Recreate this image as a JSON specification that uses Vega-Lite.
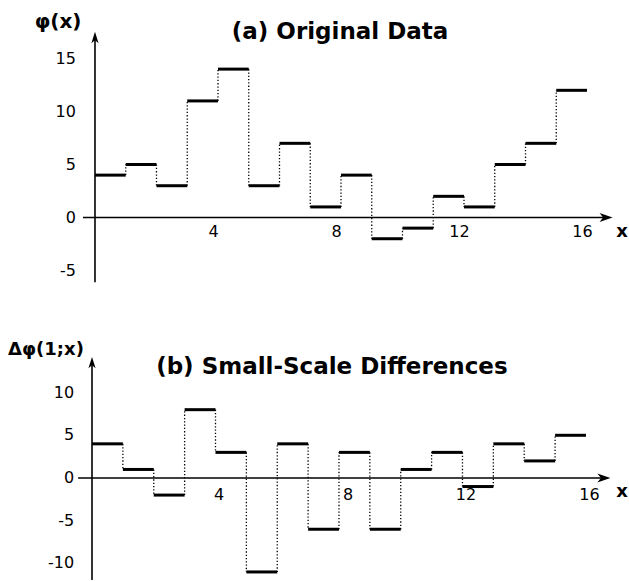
{
  "$schema": "https://vega.github.io/schema/vega-lite/v6.json",
  "padding": 0,
  "spacing": 0,
  "bounds": "flush",
  "background": "white",
  "config": {"view": {"stroke": null}, "font": "DejaVu Sans", "axis": {"domain": false, "ticks": false, "labels": false, "grid": false, "title": null}},
  "datasets": {
    "a": [
      {"start": 0, "end": 1, "v": 4, "prev": null},
      {"start": 1, "end": 2, "v": 5, "prev": 4},
      {"start": 2, "end": 3, "v": 3, "prev": 5},
      {"start": 3, "end": 4, "v": 11, "prev": 3},
      {"start": 4, "end": 5, "v": 14, "prev": 11},
      {"start": 5, "end": 6, "v": 3, "prev": 14},
      {"start": 6, "end": 7, "v": 7, "prev": 3},
      {"start": 7, "end": 8, "v": 1, "prev": 7},
      {"start": 8, "end": 9, "v": 4, "prev": 1},
      {"start": 9, "end": 10, "v": -2, "prev": 4},
      {"start": 10, "end": 11, "v": -1, "prev": -2},
      {"start": 11, "end": 12, "v": 2, "prev": -1},
      {"start": 12, "end": 13, "v": 1, "prev": 2},
      {"start": 13, "end": 14, "v": 5, "prev": 1},
      {"start": 14, "end": 15, "v": 7, "prev": 5},
      {"start": 15, "end": 16, "v": 12, "prev": 7}
    ],
    "b": [
      {"start": 0, "end": 1, "v": 4, "prev": null},
      {"start": 1, "end": 2, "v": 1, "prev": 4},
      {"start": 2, "end": 3, "v": -2, "prev": 1},
      {"start": 3, "end": 4, "v": 8, "prev": -2},
      {"start": 4, "end": 5, "v": 3, "prev": 8},
      {"start": 5, "end": 6, "v": -11, "prev": 3},
      {"start": 6, "end": 7, "v": 4, "prev": -11},
      {"start": 7, "end": 8, "v": -6, "prev": 4},
      {"start": 8, "end": 9, "v": 3, "prev": -6},
      {"start": 9, "end": 10, "v": -6, "prev": 3},
      {"start": 10, "end": 11, "v": 1, "prev": -6},
      {"start": 11, "end": 12, "v": 3, "prev": 1},
      {"start": 12, "end": 13, "v": -1, "prev": 3},
      {"start": 13, "end": 14, "v": 4, "prev": -1},
      {"start": 14, "end": 15, "v": 2, "prev": 4},
      {"start": 15, "end": 16, "v": 5, "prev": 2}
    ],
    "yticksA": [{"t": -5}, {"t": 0}, {"t": 5}, {"t": 10}, {"t": 15}],
    "yticksB": [{"t": -10}, {"t": -5}, {"t": 0}, {"t": 5}, {"t": 10}],
    "xticks": [{"t": 4}, {"t": 8}, {"t": 12}, {"t": 16}],
    "one": [{}]
  },
  "vconcat": [
    {
      "width": 629,
      "height": 300,
      "layer": [
        {
          "data": {"name": "a"},
          "transform": [{"filter": "isValid(datum.prev)"}],
          "mark": {"type": "rule", "strokeDash": [1.3, 2], "strokeWidth": 1.3, "color": "black"},
          "encoding": {
            "x": {"field": "start", "type": "quantitative", "scale": {"domain": [-3.089, 17.366], "nice": false, "zero": false}},
            "y": {"field": "prev", "type": "quantitative", "scale": {"domain": [-7.78, 20.52], "nice": false, "zero": false}},
            "y2": {"field": "v"}
          }
        },
        {
          "data": {"name": "a"},
          "mark": {"type": "rule", "strokeWidth": 3, "color": "black", "strokeCap": "butt"},
          "encoding": {
            "x": {"field": "start", "type": "quantitative"},
            "x2": {"field": "end"},
            "y": {"field": "v", "type": "quantitative"}
          }
        },
        {
          "data": {"name": "one"},
          "mark": {"type": "rule", "strokeWidth": 1.6, "color": "black"},
          "encoding": {
            "x": {"datum": -0.39, "type": "quantitative"},
            "x2": {"datum": 16.6},
            "y": {"datum": 0, "type": "quantitative"}
          }
        },
        {
          "data": {"name": "one"},
          "mark": {"type": "rule", "strokeWidth": 1.6, "color": "black"},
          "encoding": {
            "x": {"datum": 0, "type": "quantitative"},
            "y": {"datum": -6.1, "type": "quantitative"},
            "y2": {"datum": 16.9}
          }
        },
        {
          "data": {"name": "one"},
          "mark": {"type": "point", "filled": true, "color": "black", "opacity": 1, "size": 169, "shape": "M 1 0 L -1 -0.7 L -0.45 0 L -1 0.7 Z"},
          "encoding": {
            "x": {"datum": 16.62, "type": "quantitative"},
            "y": {"datum": 0, "type": "quantitative"}
          }
        },
        {
          "data": {"name": "one"},
          "mark": {"type": "point", "filled": true, "color": "black", "opacity": 1, "size": 144, "shape": "M 0 -1 L 0.6 0.9 L 0 0.4 L -0.6 0.9 Z"},
          "encoding": {
            "x": {"datum": 0, "type": "quantitative"},
            "y": {"datum": 16.96, "type": "quantitative"}
          }
        },
        {
          "data": {"name": "yticksA"},
          "mark": {"type": "text", "font": "DejaVu Sans", "fontSize": 16, "align": "right", "baseline": "middle", "color": "black"},
          "encoding": {
            "x": {"datum": -0.62, "type": "quantitative"},
            "y": {"field": "t", "type": "quantitative"},
            "text": {"field": "t", "type": "nominal"}
          }
        },
        {
          "data": {"name": "xticks"},
          "mark": {"type": "text", "font": "DejaVu Sans", "fontSize": 16, "align": "center", "baseline": "middle", "color": "black", "dx": -4.5},
          "encoding": {
            "x": {"field": "t", "type": "quantitative"},
            "y": {"datum": -1.37, "type": "quantitative"},
            "text": {"field": "t", "type": "nominal"}
          }
        },
        {
          "data": {"name": "one"},
          "mark": {"type": "text", "font": "DejaVu Sans", "fontWeight": "bold", "fontSize": 23, "align": "center", "baseline": "alphabetic", "color": "black"},
          "encoding": {
            "x": {"datum": 7.97, "type": "quantitative"},
            "y": {"datum": 16.84, "type": "quantitative"},
            "text": {"value": "(a)  Original Data"}
          }
        },
        {
          "data": {"name": "one"},
          "mark": {"type": "text", "font": "DejaVu Sans", "fontWeight": "bold", "fontSize": 20, "align": "center", "baseline": "alphabetic", "color": "black"},
          "encoding": {
            "x": {"datum": -1.2, "type": "quantitative"},
            "y": {"datum": 17.88, "type": "quantitative"},
            "text": {"value": "φ(x)"}
          }
        },
        {
          "data": {"name": "one"},
          "mark": {"type": "text", "font": "DejaVu Sans", "fontWeight": "bold", "fontSize": 18, "align": "center", "baseline": "alphabetic", "color": "black"},
          "encoding": {
            "x": {"datum": 17.14, "type": "quantitative"},
            "y": {"datum": -1.84, "type": "quantitative"},
            "text": {"value": "x"}
          }
        }
      ]
    },
    {
      "width": 629,
      "height": 281,
      "layer": [
        {
          "data": {"name": "b"},
          "transform": [{"filter": "isValid(datum.prev)"}],
          "mark": {"type": "rule", "strokeDash": [1.3, 2], "strokeWidth": 1.3, "color": "black"},
          "encoding": {
            "x": {"field": "start", "type": "quantitative", "scale": {"domain": [-2.98, 17.394], "nice": false, "zero": false}},
            "y": {"field": "prev", "type": "quantitative", "scale": {"domain": [-12.06, 20.84], "nice": false, "zero": false}},
            "y2": {"field": "v"}
          }
        },
        {
          "data": {"name": "b"},
          "mark": {"type": "rule", "strokeWidth": 3, "color": "black", "strokeCap": "butt"},
          "encoding": {
            "x": {"field": "start", "type": "quantitative"},
            "x2": {"field": "end"},
            "y": {"field": "v", "type": "quantitative"}
          }
        },
        {
          "data": {"name": "one"},
          "mark": {"type": "rule", "strokeWidth": 1.6, "color": "black"},
          "encoding": {
            "x": {"datum": -0.45, "type": "quantitative"},
            "x2": {"datum": 16.6},
            "y": {"datum": 0, "type": "quantitative"}
          }
        },
        {
          "data": {"name": "one"},
          "mark": {"type": "rule", "strokeWidth": 1.6, "color": "black"},
          "encoding": {
            "x": {"datum": 0, "type": "quantitative"},
            "y": {"datum": -11.94, "type": "quantitative"},
            "y2": {"datum": 13.4}
          }
        },
        {
          "data": {"name": "one"},
          "mark": {"type": "point", "filled": true, "color": "black", "opacity": 1, "size": 169, "shape": "M 1 0 L -1 -0.7 L -0.45 0 L -1 0.7 Z"},
          "encoding": {
            "x": {"datum": 16.58, "type": "quantitative"},
            "y": {"datum": 0, "type": "quantitative"}
          }
        },
        {
          "data": {"name": "one"},
          "mark": {"type": "point", "filled": true, "color": "black", "opacity": 1, "size": 144, "shape": "M 0 -1 L 0.6 0.9 L 0 0.4 L -0.6 0.9 Z"},
          "encoding": {
            "x": {"datum": 0, "type": "quantitative"},
            "y": {"datum": 13.47, "type": "quantitative"}
          }
        },
        {
          "data": {"name": "yticksB"},
          "mark": {"type": "text", "font": "DejaVu Sans", "fontSize": 16, "align": "right", "baseline": "middle", "color": "black"},
          "encoding": {
            "x": {"datum": -0.58, "type": "quantitative"},
            "y": {"field": "t", "type": "quantitative"},
            "text": {"field": "t", "type": "nominal"}
          }
        },
        {
          "data": {"name": "xticks"},
          "transform": [{"filter": "datum.t !== 8"}],
          "mark": {"type": "text", "font": "DejaVu Sans", "fontSize": 16, "align": "center", "baseline": "middle", "color": "black", "dx": 3.5},
          "encoding": {
            "x": {"field": "t", "type": "quantitative"},
            "y": {"datum": -1.99, "type": "quantitative"},
            "text": {"field": "t", "type": "nominal"}
          }
        },
        {
          "data": {"name": "xticks"},
          "transform": [{"filter": "datum.t === 8"}],
          "mark": {"type": "text", "font": "DejaVu Sans", "fontSize": 16, "align": "center", "baseline": "middle", "color": "black", "dx": 9},
          "encoding": {
            "x": {"field": "t", "type": "quantitative"},
            "y": {"datum": -1.99, "type": "quantitative"},
            "text": {"field": "t", "type": "nominal"}
          }
        },
        {
          "data": {"name": "one"},
          "mark": {"type": "text", "font": "DejaVu Sans", "fontWeight": "bold", "fontSize": 23, "align": "center", "baseline": "alphabetic", "color": "black"},
          "encoding": {
            "x": {"datum": 7.77, "type": "quantitative"},
            "y": {"datum": 12.18, "type": "quantitative"},
            "text": {"value": "(b)  Small-Scale  Differences"}
          }
        },
        {
          "data": {"name": "one"},
          "mark": {"type": "text", "font": "DejaVu Sans", "fontWeight": "bold", "fontSize": 18, "align": "center", "baseline": "alphabetic", "color": "black"},
          "encoding": {
            "x": {"datum": -1.49, "type": "quantitative"},
            "y": {"datum": 14.4, "type": "quantitative"},
            "text": {"value": "Δφ(1;x)"}
          }
        },
        {
          "data": {"name": "one"},
          "mark": {"type": "text", "font": "DejaVu Sans", "fontWeight": "bold", "fontSize": 18, "align": "center", "baseline": "alphabetic", "color": "black"},
          "encoding": {
            "x": {"datum": 17.17, "type": "quantitative"},
            "y": {"datum": -2.22, "type": "quantitative"},
            "text": {"value": "x"}
          }
        }
      ]
    }
  ]
}
